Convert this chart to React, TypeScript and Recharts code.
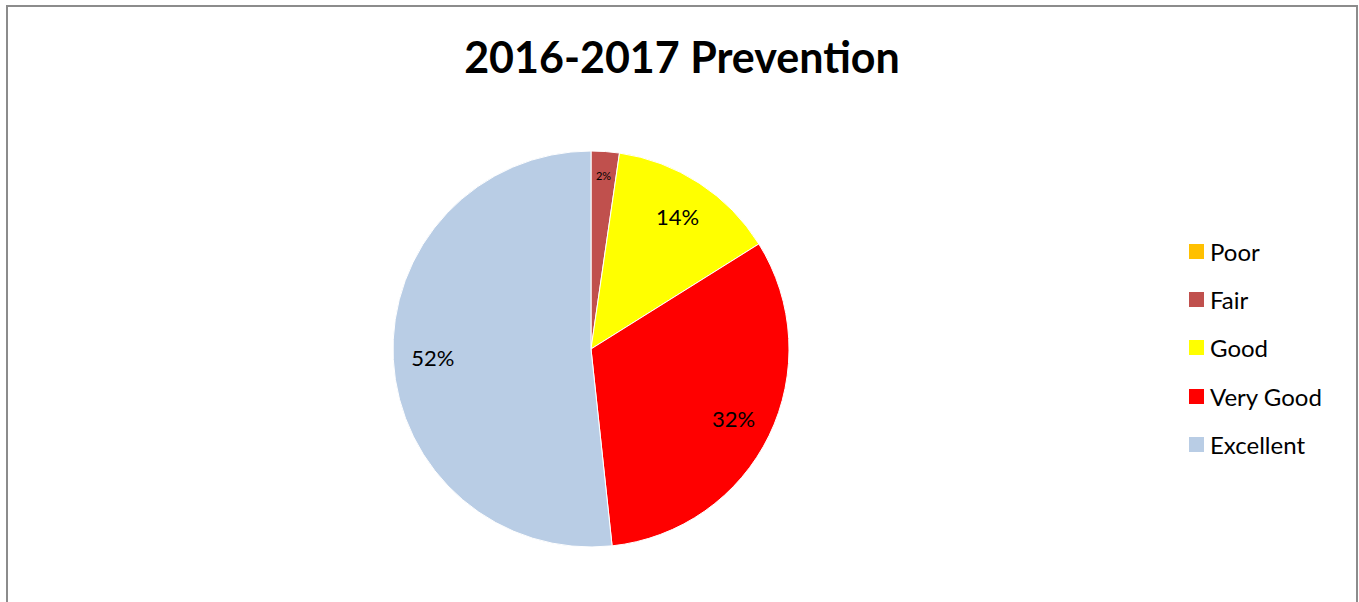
import React from "react";
import { PieChart, Pie, Cell, Legend } from "recharts";

const categories = ["Poor", "Fair", "Good", "Very Good", "Excellent"];
const values = [0, 2.3, 13.8, 32.2, 51.7];
const colors = ["#FFC000", "#C0504D", "#FFFF00", "#FF0000", "#B9CDE5"];
const title = "2016-2017 Prevention";

const data = categories.map((name, i) => ({ name, value: values[i] }));

const FONT = "Lato, 'Open Sans', sans-serif";
const RADIAN = Math.PI / 180;

const renderLabel = (props: any) => {
  const { cx, cy, midAngle, outerRadius, percent, value } = props;
  if (!value) return null;
  const small = percent < 0.05;
  const r = outerRadius * (small ? 0.88 : 0.8);
  const x = cx + r * Math.cos(-midAngle * RADIAN);
  const y = cy + r * Math.sin(-midAngle * RADIAN);
  return (
    <text
      x={x}
      y={y}
      textAnchor="middle"
      dominantBaseline="central"
      fontFamily={FONT}
      fontSize={small ? 11 : 22}
      fill="#000"
    >
      {`${Math.round(percent * 100)}%`}
    </text>
  );
};

const renderLegend = () => (
  <div style={{ fontFamily: FONT, fontSize: 24, color: "#000" }}>
    {categories.map((c, i) => (
      <div
        key={c}
        style={{ display: "flex", alignItems: "center", height: 48.3 }}
      >
        <span
          style={{
            display: "inline-block",
            width: 15,
            height: 15,
            background: colors[i],
            marginRight: 6,
          }}
        />
        <span>{c}</span>
      </div>
    ))}
  </div>
);

export default function App() {
  return (
    <div style={{ position: "absolute", left: 0, top: 0, width: 1359, height: 602, background: "#fff", overflow: "hidden" }}>
      <div
        style={{
          position: "absolute",
          left: 6,
          top: 5,
          width: 1348,
          height: 620,
          border: "2px solid #8c8c8c",
        }}
      />
      <div
        style={{
          position: "absolute",
          left: 0,
          width: 1364,
          top: 29,
          textAlign: "center",
          fontFamily: FONT,
          fontWeight: 700,
          fontSize: 43,
          lineHeight: "56px",
          color: "#000",
        }}
      >
        {title}
      </div>
      <div style={{ position: "absolute", left: 0, top: 0 }}>
        <PieChart width={1359} height={602} margin={{ top: 0, right: 0, bottom: 0, left: 0 }}>
          <Pie
            data={data}
            dataKey="value"
            nameKey="name"
            cx={591}
            cy={349}
            outerRadius={198}
            startAngle={90}
            endAngle={-270}
            stroke="#fff"
            strokeWidth={1}
            label={renderLabel}
            labelLine={false}
            isAnimationActive={false}
          >
            {data.map((d, i) => (
              <Cell key={d.name} fill={colors[i]} />
            ))}
          </Pie>
          <Legend
            content={renderLegend}
            wrapperStyle={{ position: "absolute", left: 1189, top: 227, width: 170 }}
          />
        </PieChart>
      </div>
    </div>
  );
}
